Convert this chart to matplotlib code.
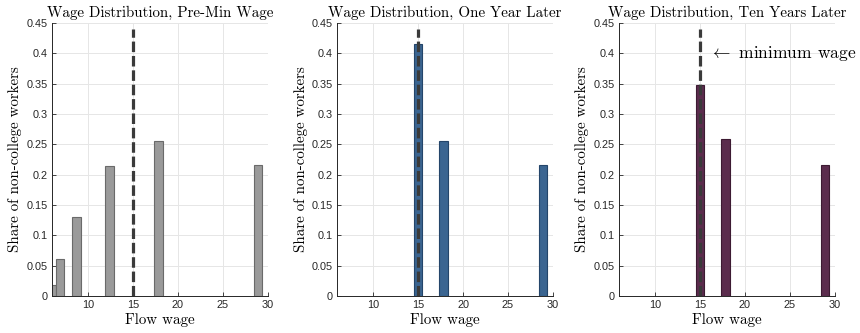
import matplotlib
matplotlib.use('Agg')
import matplotlib.pyplot as plt

# Wage bins (bar centres) and share of non-college workers in each
wages_pre = [5.95, 6.9, 8.7, 12.4, 17.85, 28.9]
share_pre = [0.018, 0.061, 0.131, 0.214, 0.256, 0.216]

wages_one = [15.0, 17.85, 28.9]
share_one = [0.415, 0.256, 0.216]

wages_ten = [15.0, 17.85, 28.9]
share_ten = [0.348, 0.258, 0.216]

min_wage = 15.0
titles = ['Wage Distribution, Pre-Min Wage',
          'Wage Distribution, One Year Later',
          'Wage Distribution, Ten Years Later']
bar_colors = ['#9a9a9a', '#3b6591', '#5b2c4d']
edge_colors = ['#6a6a6a', '#24456a', '#3c1a32']

plt.rcParams['mathtext.fontset'] = 'cm'
serif = 'cmr10'
tick_font = 'Liberation Sans'

fig = plt.figure(figsize=(8.6, 3.33), dpi=100)
lefts = [0.0605, 0.392, 0.7198]
panels = [(wages_pre, share_pre), (wages_one, share_one), (wages_ten, share_ten)]

for i, (x, y) in enumerate(panels):
    ax = fig.add_axes([lefts[i], 0.111, 0.251, 0.82])
    ax.bar(x, y, width=0.95, color=bar_colors[i], edgecolor=edge_colors[i],
           linewidth=0.8, zorder=2)
    # minimum wage marker
    ax.plot([min_wage, min_wage], [0, 0.44], color='#3a3a3a', lw=2.3,
            dashes=(3.3, 1.2), zorder=3)
    ax.set_xlim(6, 30)
    ax.set_ylim(0, 0.45)
    ax.set_xticks([10, 15, 20, 25, 30])
    ax.set_yticks([0, 0.05, 0.1, 0.15, 0.2, 0.25, 0.3, 0.35, 0.4, 0.45])
    ax.set_yticklabels(['0', '0.05', '0.1', '0.15', '0.2', '0.25', '0.3',
                        '0.35', '0.4', '0.45'])
    ax.grid(True, color='#e6e6e6', lw=0.7, zorder=0)
    ax.set_axisbelow(True)
    for s in ['top', 'right']:
        ax.spines[s].set_visible(False)
    for s in ['left', 'bottom']:
        ax.spines[s].set_color('#262626')
        ax.spines[s].set_linewidth(0.7)
    ax.tick_params(direction='in', length=3, width=0.6, colors='#262626',
                   labelsize=7.8, pad=3)
    for lbl in ax.get_xticklabels() + ax.get_yticklabels():
        lbl.set_fontfamily(tick_font)
    ax.set_title(titles[i], family=serif, fontsize=10.8, pad=4)
    ax.set_xlabel('Flow wage', family=serif, fontsize=10.8, labelpad=2)
    ax.set_ylabel('Share of non-college workers', family=serif, fontsize=10.8,
                  labelpad=3)
    if i == 2:
        ax.text(16.0, 0.4, r'$\leftarrow$ minimum wage', family=serif,
                fontsize=12.6, va='center', ha='left')

fig.savefig('out.png', dpi=100)
